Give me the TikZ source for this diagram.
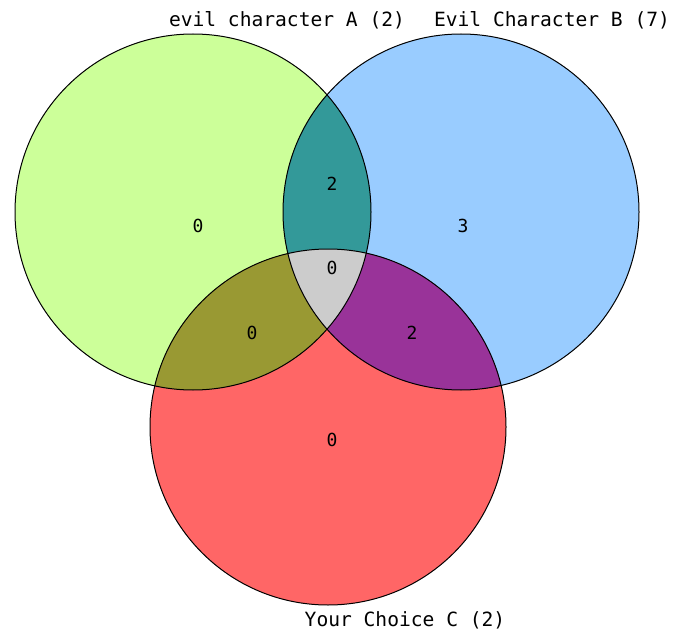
\documentclass[tikz,border=0pt]{standalone}
\usepackage{fontspec}
\setmonofont{DejaVu Sans Mono}
\definecolor{cA}{HTML}{CCFF99}
\definecolor{cB}{HTML}{99CCFF}
\definecolor{cC}{HTML}{FF6666}
\definecolor{cAB}{HTML}{339999}
\definecolor{cAC}{HTML}{999933}
\definecolor{cBC}{HTML}{993399}
\definecolor{cABC}{HTML}{CCCCCC}
\begin{document}
\begin{tikzpicture}[x=1pt,y=-1pt,
  lbl/.style={font=\ttfamily\fontsize{19.6}{19.6}\selectfont, inner sep=0pt, text=black},
  num/.style={font=\ttfamily\fontsize{18}{18}\selectfont, inner sep=0pt, text=black},
  ring/.style={draw=black, line width=1pt}]
\useasboundingbox[fill=white] (0,0) rectangle (677,631);
\coordinate (A) at (193,212);
\coordinate (B) at (461,212);
\coordinate (C) at (328,427);
\fill[cA] (A) circle (178pt);
\fill[cB] (B) circle (178pt);
\fill[cC] (C) circle (178pt);
\begin{scope}\clip (A) circle (178pt); \fill[cAB] (B) circle (178pt);\end{scope}
\begin{scope}\clip (A) circle (178pt); \fill[cAC] (C) circle (178pt);\end{scope}
\begin{scope}\clip (B) circle (178pt); \fill[cBC] (C) circle (178pt);\end{scope}
\begin{scope}\clip (A) circle (178pt); \clip (B) circle (178pt); \fill[cABC] (C) circle (178pt);\end{scope}
\draw[ring] (A) circle (178pt);
\draw[ring] (B) circle (178pt);
\draw[ring] (C) circle (178pt);
\node[lbl] (la) at (287,20) {evil character A (2)};
\node[lbl] (lb) at (552,20) {Evil Character B (7)};
\node[lbl] (lc) at (405,620) {Your Choice C (2)};
\node[num] (nA) at (198,226) {0};
\node[num] (nB) at (463,226) {3};
\node[num] (nC) at (332,440) {0};
\node[num] (nAB) at (332,184) {2};
\node[num] (nAC) at (252,333) {0};
\node[num] (nBC) at (412,333) {2};
\node[num] (nABC) at (332,268) {0};
\end{tikzpicture}
\end{document}
